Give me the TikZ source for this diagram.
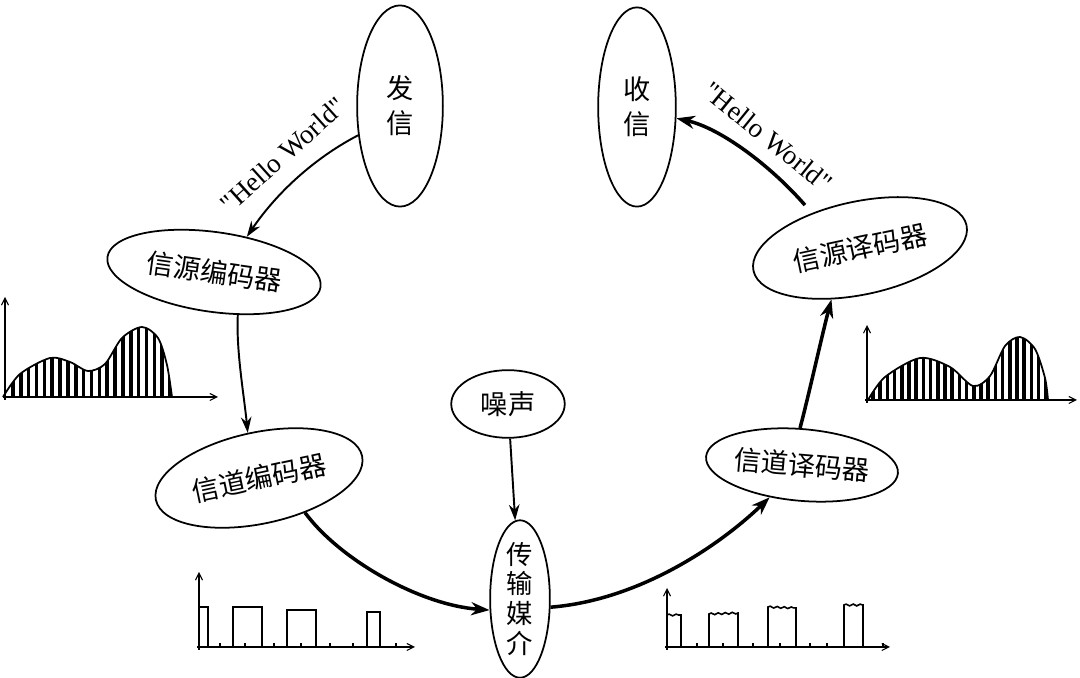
\documentclass[tikz,border=0pt]{standalone}
\usepackage{fontspec}
\newfontfamily\cjk{Noto Sans CJK SC}
\newfontfamily\hw{Liberation Serif}
\usetikzlibrary{shapes.geometric,arrows.meta,decorations.pathmorphing}
\begin{document}
\begin{tikzpicture}[x=0.02cm,y=-0.02cm,
  ell/.style={draw, ellipse, line width=1pt, inner sep=0pt, align=center,
    font={\cjk\fontsize{15.5}{19.8}\selectfont}},
  hwtext/.style={font={\hw\fontsize{15.5}{18}\selectfont}, inner sep=0pt},
  thinarr/.style={line width=1.1pt, -{Stealth[length=9pt,width=6pt]}},
  thickarr/.style={line width=2pt, -{Stealth[length=10.5pt,width=7.5pt]}},
  axis/.style={line width=0.6pt, -{Straight Barb[length=4pt,width=4pt]}},
  pulse/.style={line width=0.9pt},
  wig/.style={decoration={snake,amplitude=0.5pt,segment length=4pt}},
  stripe/.style={line width=2pt},
  wave/.style={line width=1pt}]
\useasboundingbox (0,0) rectangle (1080,678);

% nodes
\node[ell, minimum width=48.8pt, minimum height=114.5pt] (fx) at (400,106) {发\\信};
\node[ell, minimum width=44.2pt, minimum height=113.4pt] (sx) at (637,107) {收\\信};
\node[ell, rotate=-8, minimum width=122.5pt, minimum height=45.4pt] (yb) at (214,272) {信源编码器};
\node[ell, rotate=12, minimum width=124pt, minimum height=53pt] (yy) at (860,248) {信源译码器};
\node[ell, rotate=12, minimum width=120pt, minimum height=52pt] (db) at (259,478) {信道编码器};
\node[ell, rotate=-5, minimum width=108.8pt, minimum height=40.8pt] (dy) at (802,465) {信道译码器};
\node[ell, minimum width=64.6pt, minimum height=38.5pt] (zs) at (508,404) {噪声};
\node[ell, minimum width=34pt, minimum height=89.6pt, inner ysep=-1.5pt,
  font={\cjk\fontsize{15}{17}\selectfont}] (cs) at (520,599) {传\\输\\媒\\介};

\node[hwtext, rotate=42] (h1) at (283,155) {"Hello World"};
\node[hwtext, rotate=-39] (h2) at (768,137) {"Hello World"};

% connectors
\draw[thinarr] (fx.215) .. controls (320,155) and (280,188) .. (yb.55);
\draw[thinarr] (yb.307) .. controls (236,350) and (244,395) .. (db.92);
\draw[thinarr] (zs) -- (cs);
\draw[thickarr] (db.311) .. controls (340,560) and (420,605) .. (cs.200);
\draw[thickarr] (cs.345) .. controls (640,600) and (720,545) .. (dy.230);
\draw[thickarr] (dy.98) .. controls (810,390) and (822,335) .. (yy.229);
\draw[thickarr, shorten <=6pt] (yy.132) .. controls (770,165) and (720,128) .. (sx.344);

% left analog waveform
\begin{scope}
\clip plot[smooth] coordinates {(3,397) (20,374) (50,358) (70,362) (88,371) (105,364) (122,338) (142,327) (158,338) (167,365) (172,397)} -- cycle;
\foreach \x in {13,20.85,...,172} \draw[stripe] (\x,320) -- (\x,398);
\end{scope}
\draw[wave] plot[smooth] coordinates {(3,397) (20,374) (50,358) (70,362) (88,371) (105,364) (122,338) (142,327) (158,338) (167,365) (172,397)};
\draw[axis] (5,400) -- (5,297);
\draw[axis] (3,397) -- (218,397);

% right analog waveform
\begin{scope}
\clip plot[smooth] coordinates {(868,400) (885,377) (920,358) (950,367) (973,386) (990,376) (1005,346) (1020,337) (1035,349) (1045,378) (1048,400)} -- cycle;
\foreach \x in {873,880.2,...,1048} \draw[stripe] (\x,330) -- (\x,401);
\end{scope}
\draw[wave] plot[smooth] coordinates {(868,400) (885,377) (920,358) (950,367) (973,386) (990,376) (1005,346) (1020,337) (1035,349) (1045,378) (1048,400)};
\draw[axis] (867,403) -- (867,325);
\draw[axis] (865,400) -- (1077,400);

% left digital signal
\draw[axis] (199,650) -- (199,572);
\draw[axis] (197,647) -- (415,647);
\draw[pulse] (199,647) |- (208,607) -- (208,647);
\draw[pulse] (233,647) |- (262,607) -- (262,647);
\draw[pulse] (287,647) |- (316,610) -- (316,647);
\draw[pulse] (367,647) |- (380,612) -- (380,647);
\foreach \x in {220,245,274,301,330,353,396} \draw[line width=0.6pt] (\x,647) -- (\x,643);

% right digital signal (noisy)
\draw[axis] (667,650) -- (667,588);
\draw[axis] (665,647) -- (890,647);
\draw[pulse, wig] (667,647) -- (667,615) decorate{-- (681,615)} -- (681,647);
\draw[pulse, wig] (709,647) -- (709,614) decorate{-- (738,613)} -- (738,647);
\draw[pulse, wig] (768,647) -- (768,607) decorate{-- (796,608)} -- (796,647);
\draw[pulse, wig] (844,647) -- (844,605) decorate{-- (863,605)} -- (863,647);
\foreach \x in {697,723,753,780,810,827,883} \draw[line width=0.6pt] (\x,647) -- (\x,643);
\end{tikzpicture}
\end{document}
